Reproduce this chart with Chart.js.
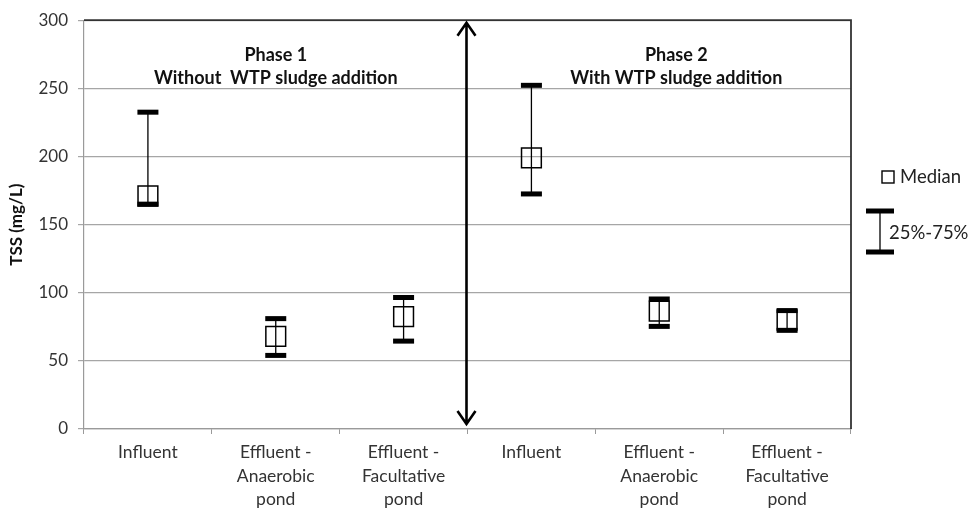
<!DOCTYPE html>
<html>
<head>
<meta charset="utf-8">
<script src="https://cdn.jsdelivr.net/npm/chart.js@4.4.1/dist/chart.umd.min.js"></script>
<style>
  html, body { margin: 0; padding: 0; background: #fff; }
  #wrap { width: 972px; height: 508px; }
</style>
</head>
<body>
<div id="wrap"><canvas id="c" width="972" height="508"></canvas></div>
<script>
/* TSS by sampling point, phase 1 vs phase 2 */
const categories = [
  ['Influent'], ['Effluent -', 'Anaerobic', 'pond'], ['Effluent -', 'Facultative', 'pond'],
  ['Influent'], ['Effluent -', 'Anaerobic', 'pond'], ['Effluent -', 'Facultative', 'pond']
];
const medianVals = [171, 68, 82.5, 199, 86.5, 80];
const q1Vals     = [165, 54, 64.5, 172.5, 75.3, 72.4];
const q3Vals     = [232.5, 81, 96.5, 252.2, 95.4, 86.9];
const phaseTitles = [
  ['Phase 1', 'Without  WTP sludge addition'],
  ['Phase 2', 'With WTP sludge addition']
];
const yTitle = 'TSS (mg/L)';

const FONT = 'Lato, "Open Sans", sans-serif';

// whiskers + caps, phase divider arrow, titles, frame, legend
const extras = {
  id: 'extras',
  afterDatasetsDraw(chart) {
    const { ctx, scales: { x, y } } = chart;
    ctx.save();
    medianVals.forEach((m, i) => {
      const px = x.getPixelForValue(i);
      const yT = y.getPixelForValue(q3Vals[i]);
      const yB = y.getPixelForValue(q1Vals[i]);
      ctx.strokeStyle = '#000';
      ctx.lineWidth = 1.3;
      ctx.beginPath();
      ctx.moveTo(px, yT); ctx.lineTo(px, yB);
      ctx.stroke();
      ctx.fillStyle = '#000';
      ctx.fillRect(px - 10.5, yT - 2.5, 21, 5);
      ctx.fillRect(px - 10.5, yB - 2.5, 21, 5);
    });
    ctx.restore();
  },
  afterDraw(chart) {
    const { ctx, chartArea: a, scales: { x } } = chart;
    ctx.save();
    // dark top + right frame
    ctx.strokeStyle = '#333';
    ctx.lineWidth = 1.8;
    ctx.beginPath();
    ctx.moveTo(a.left, a.top); ctx.lineTo(a.right, a.top); ctx.lineTo(a.right, a.bottom);
    ctx.stroke();

    // double arrow between phases
    const ax = (x.getPixelForValue(2) + x.getPixelForValue(3)) / 2 - 1;
    const t = a.top + 1.5, b = a.bottom - 4;
    ctx.strokeStyle = '#000';
    ctx.lineWidth = 2.6;
    ctx.lineJoin = 'miter';
    ctx.beginPath();
    ctx.moveTo(ax, t + 1); ctx.lineTo(ax, b - 1);
    ctx.moveTo(ax - 9, t + 14); ctx.lineTo(ax, t + 1); ctx.lineTo(ax + 9, t + 14);
    ctx.moveTo(ax - 9, b - 14); ctx.lineTo(ax, b - 1); ctx.lineTo(ax + 9, b - 14);
    ctx.stroke();

    // phase titles
    ctx.fillStyle = '#111';
    ctx.font = 'bold 18px ' + FONT;
    ctx.textAlign = 'center';
    ctx.textBaseline = 'middle';
    const cx = [x.getPixelForValue(1), x.getPixelForValue(4) + 17];
    phaseTitles.forEach((lines, k) => {
      ctx.fillText(lines[0], cx[k], 55);
      ctx.fillText(lines[1], cx[k], 78);
    });

    // legend on the right
    ctx.textAlign = 'left';
    ctx.font = '18.5px ' + FONT;
    ctx.fillStyle = '#222';
    ctx.strokeStyle = '#000';
    ctx.lineWidth = 1.4;
    ctx.strokeRect(882, 171, 12, 12);
    ctx.fillText('Median', 900, 177.5);
    ctx.lineWidth = 1.3;
    ctx.beginPath();
    ctx.moveTo(880, 211); ctx.lineTo(880, 252);
    ctx.stroke();
    ctx.fillStyle = '#000';
    ctx.fillRect(866, 208.5, 28, 5);
    ctx.fillRect(866, 249.5, 28, 5);
    ctx.fillStyle = '#222';
    ctx.fillText('25%-75%', 889, 233.5);
    ctx.restore();
  }
};

new Chart(document.getElementById('c'), {
  type: 'line',
  data: {
    labels: categories,
    datasets: [{
      label: 'Median',
      data: medianVals,
      showLine: false,
      pointStyle: 'rect',
      pointRadius: 14,
      pointHoverRadius: 14,
      pointBorderWidth: 1.5,
      pointBorderColor: '#000',
      pointBackgroundColor: 'rgba(255,255,255,0)'
    }]
  },
  options: {
    responsive: false,
    animation: false,
    events: [],
    layout: { padding: { left: 0, right: 121, top: 16, bottom: 0 } },
    plugins: { legend: { display: false }, tooltip: { enabled: false } },
    scales: {
      x: {
        type: 'category',
        offset: true,
        grid: { display: true, offset: true, drawOnChartArea: false, drawTicks: true, tickLength: 5, color: '#9a9a9a' },
        border: { color: '#9a9a9a', width: 1.2 },
        ticks: {
          color: '#333', maxRotation: 0, autoSkip: false, padding: 7,
          font: { family: FONT, size: 17.5, lineHeight: 1.33 }
        },
        afterFit(s) { s.height = 79; }
      },
      y: {
        min: 0, max: 300,
        ticks: { stepSize: 50, color: '#333', padding: 10, font: { family: FONT, size: 17 } },
        grid: { color: '#a6a6a6', lineWidth: 1.2, tickLength: 6 },
        border: { color: '#9a9a9a', width: 1.2 },
        title: {
          display: true, text: yTitle, color: '#111', padding: { top: 6, bottom: 0 },
          font: { family: FONT, size: 17, weight: 'bold' }
        },
        afterFit(s) { s.width = 84; }
      }
    }
  },
  plugins: [extras]
});
</script>
</body>
</html>
